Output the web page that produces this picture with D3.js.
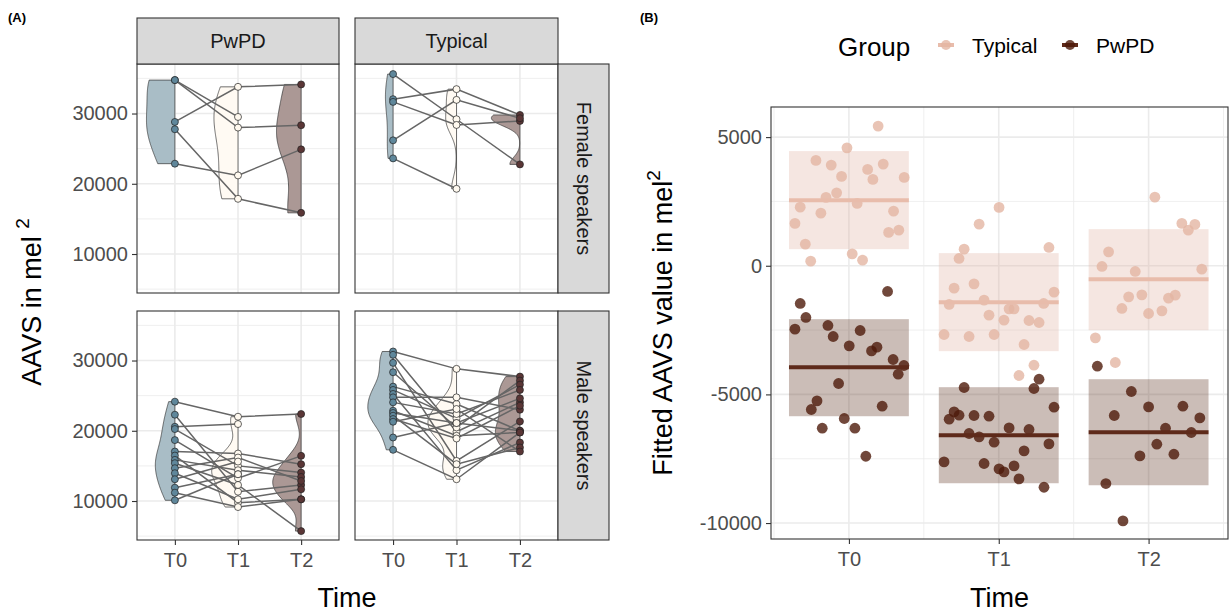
<!DOCTYPE html>
<html>
<head>
<meta charset="utf-8">
<script src="https://cdn.jsdelivr.net/npm/d3@7"></script>
<style>
  body { margin: 0; background: #fff; }
</style>
</head>
<body>
<div id="app"></div>
<script>
// ---------- data ----------
const times = ['T0', 'T1', 'T2'];
const groupsA = ['PwPD', 'Typical'];
const sexes = ['Female speakers', 'Male speakers'];

// AAVS per speaker at [T0, T1, T2]; null = missing
const pwpdFemale = [
  [34760, 29510, null], [34760, 28000, 28330], [28800, 33800, 34140],
  [27760, 17860, 15860], [22860, 21190, 24900]
];
const typicalFemale = [
  [35614, 29186, 22757], [32043, 33471, 29800], [31657, 28371, 28943],
  [26186, 31943, 29330], [23614, 19286, null]
];
const pwpdMale = [
  [24143, 22000, 22386], [22286, 11329, 12286], [20571, 20957, null],
  [20243, 15000, 14043], [18671, 13243, 16429], [17043, 16757, 15243],
  [16471, 9757, 10243], [15857, 14386, 13429], [15386, 12286, 5714],
  [14671, 16186, 12857], [13957, 10243, 11671], [13100, 15614, null],
  [11900, 13814, null], [11186, 9143, 10243], [10100, 13814, null]
];
const typicalMale = [
  [31286, 28814, 27714], [30814, 19857, 24043], [29671, 15714, 21329],
  [28329, 20471, 27143], [26286, 23814, 20000], [25814, 21757, 26571],
  [25243, 14386, 18329], [24757, 24757, 23000], [24043, 22386, 25814],
  [22857, 19286, 19757], [22529, 21100, 24614], [22143, 15243, 17614],
  [21671, 18900, 23571], [21286, 23100, 17043], [19043, 21100, 20000],
  [17286, 13100, 19757]
];

// panel B: fitted values per speaker, [jitter offset, value]
const fitTypicalT0 = [[0.195,5428],[-0.013,4584],[-0.22,4094],[-0.118,3911],[0.229,3950],[0.125,3744],[-0.049,3472],[0.16,3355],[0.369,3433],[-0.082,2834],[-0.153,2656],[-0.325,2278],[0.055,2422],[-0.187,2045],[0.298,2123],[-0.36,1645],[0.265,1295],[0.333,1384],[-0.291,840],[0.022,463],[-0.255,179],[0.091,218]];
const fitTypicalT1 = [[0.002,2267],[-0.131,1617],[-0.231,645],[-0.265,283],[0.335,711],[-0.298,-871],[-0.165,-704],[-0.331,-1505],[-0.098,-1337],[0.369,-1026],[0.3,-1466],[0.069,-1676],[0.102,-1676],[-0.065,-1921],[0.035,-2115],[0.202,-2127],[0.269,-2205],[-0.365,-2671],[-0.198,-2749],[-0.031,-2671],[0.169,-3060],[0.235,-3865],[0.135,-4265]];
const fitTypicalT2 = [[0.042,2667],[0.222,1645],[0.309,1606],[0.265,1384],[-0.267,541],[-0.311,-27],[-0.089,-222],[0.355,-132],[-0.133,-1209],[-0.045,-1131],[0.133,-1259],[0.178,-1143],[-0.178,-1660],[0,-1855],[0.089,-1753],[-0.355,-2803],[-0.222,-3760]];
const fitPwpdT0 = [[0.258,-999],[-0.325,-1466],[-0.287,-2010],[-0.36,-2465],[-0.14,-2321],[-0.105,-2749],[0.075,-2516],[0.002,-3114],[0.151,-3309],[0.187,-3165],[0.295,-3643],[0.367,-3877],[0.329,-4215],[-0.069,-4577],[-0.213,-5253],[-0.251,-5587],[0.222,-5459],[-0.031,-5937],[-0.178,-6314],[0.04,-6314],[0.113,-7403]];
const fitPwpdT1 = [[-0.231,-4732],[0.269,-4409],[0.235,-4771],[-0.298,-5680],[-0.331,-5964],[-0.265,-5809],[-0.165,-5820],[-0.065,-5848],[0.369,-5498],[0.069,-6302],[0.202,-6365],[-0.198,-6520],[-0.131,-6652],[-0.031,-6858],[0.335,-6924],[0.169,-7196],[-0.365,-7624],[-0.098,-7686],[0.002,-7896],[0.035,-8013],[0.102,-7780],[0.135,-8285],[0.302,-8608]];
const fitPwpdT2 = [[-0.342,-3904],[-0.115,-4887],[-0.229,-5820],[0,-5486],[0.229,-5459],[0.342,-5914],[0.113,-6314],[0.285,-6481],[0.055,-6936],[-0.058,-7391],[0.169,-7325],[-0.285,-8464],[-0.171,-9918]];

// model estimates per time: mean, lower, upper
const meanTypical = [2550, -1415, -521];
const lowTypical = [645, -3320, -2504];
const highTypical = [4456, 490, 1423];
const meanPwpd = [-3942, -6587, -6470];
const lowPwpd = [-5848, -8453, -8531];
const highPwpd = [-2076, -4720, -4410];

const legendGroups = ['Typical', 'PwPD'];

// ---------- setup ----------
const width = 1229, height = 613;
const font = '"Liberation Sans", Arial, Helvetica, sans-serif';
const svg = d3.select('#app').append('svg')
  .attr('width', width).attr('height', height)
  .style('font-family', font);
svg.append('rect').attr('width', width).attr('height', height).attr('fill', '#fff');

const gridCol = '#ebebeb';
const plainNum = d => String(d);   // hyphen minus like R
const styleAxis = g => {
  g.select('.domain').remove();
  g.selectAll('.tick line').attr('stroke', '#333').attr('stroke-width', 1.1);
  g.selectAll('.tick text').attr('fill', '#4d4d4d')
    .style('font-family', font).style('font-size', '20px');
};

// simple gaussian kde with R's bw.nrd0
const nrd0 = v => {
  const s = v.slice().sort(d3.ascending);
  const sd = d3.deviation(s);
  const iqr = (d3.quantile(s, 0.75) - d3.quantile(s, 0.25)) / 1.34;
  const lo = Math.min(sd, iqr) || sd || 1;
  return 0.9 * lo * Math.pow(s.length, -0.2);
};
const kde = v => {
  const bw = nrd0(v);
  const [a, b] = d3.extent(v);
  return d3.range(0, 121).map(i => {
    const y = a + (b - a) * i / 120;
    const dens = d3.mean(v, x => Math.exp(-0.5 * ((y - x) / bw) ** 2)) / (bw * Math.sqrt(2 * Math.PI));
    return [y, dens];
  });
};

// ---------- panel A ----------
const colX = [[137, 339], [355, 558]];
const rowY = [[64, 293], [311, 540]];
const panelData = [[pwpdFemale, typicalFemale], [pwpdMale, typicalMale]];
const violinFill = ['#a9bdc6', '#fffaf3', '#ab9895'];
const pointFill = ['#5f879b', '#fff9ef', '#5a3636'];

svg.append('text').attr('x', 8).attr('y', 22).attr('font-weight', 'bold')
  .attr('font-size', 13).text('(A)');

rowY.forEach((ry, r) => {
  const y = d3.scaleLinear().domain([4450, 37050]).range([ry[1], ry[0]]);
  colX.forEach((cx, c) => {
    const x = d3.scalePoint().domain(times).range(cx).padding(0.6);
    const g = svg.append('g');
    const subjects = panelData[r][c];

    // grid
    g.selectAll('.minor').data([5000, 15000, 25000, 35000]).join('line')
      .attr('x1', cx[0]).attr('x2', cx[1]).attr('y1', d => y(d)).attr('y2', d => y(d))
      .attr('stroke', gridCol).attr('stroke-width', 0.8);
    g.selectAll('.major').data([10000, 20000, 30000]).join('line')
      .attr('x1', cx[0]).attr('x2', cx[1]).attr('y1', d => y(d)).attr('y2', d => y(d))
      .attr('stroke', gridCol).attr('stroke-width', 1.6);
    g.selectAll('.vgrid').data(times).join('line')
      .attr('x1', d => x(d)).attr('x2', d => x(d)).attr('y1', ry[0]).attr('y2', ry[1])
      .attr('stroke', gridCol).attr('stroke-width', 1.6);

    // half violins, scaled by the panel's max density
    const dens = times.map((t, i) => kde(subjects.map(s => s[i]).filter(v => v != null)));
    const maxD = d3.max(dens, d => d3.max(d, p => p[1]));
    const halfW = 0.45 * x.step();
    dens.forEach((dd, i) => {
      const x0 = x(times[i]);
      const pts = [[x0, y(dd[0][0])]]
        .concat(dd.map(p => [x0 - halfW * p[1] / maxD, y(p[0])]))
        .concat([[x0, y(dd[dd.length - 1][0])]]);
      g.append('path').attr('d', d3.line()(pts) + 'Z')
        .attr('fill', violinFill[i]).attr('stroke', '#333').attr('stroke-width', 0.7);
    });

    // speaker lines
    g.selectAll('.subj').data(subjects).join('path')
      .attr('d', s => d3.line()(times.map((t, i) => [x(t), s[i]]).filter(p => p[1] != null).map(p => [p[0], y(p[1])])))
      .attr('fill', 'none').attr('stroke', '#666').attr('stroke-width', 1.5);

    // points
    times.forEach((t, i) => {
      g.selectAll('.pt' + i).data(subjects.filter(s => s[i] != null)).join('circle')
        .attr('cx', x(t)).attr('cy', s => y(s[i])).attr('r', 3.5)
        .attr('fill', pointFill[i]).attr('stroke', '#222').attr('stroke-width', 0.7);
    });

    g.append('rect').attr('x', cx[0]).attr('y', ry[0])
      .attr('width', cx[1] - cx[0]).attr('height', ry[1] - ry[0])
      .attr('fill', 'none').attr('stroke', '#333').attr('stroke-width', 1.1);

    if (r === 1) {
      svg.append('g').attr('transform', `translate(0,${ry[1]})`)
        .call(d3.axisBottom(x).tickSize(5).tickPadding(8)).call(styleAxis);
    }
    if (c === 0) {
      svg.append('g').attr('transform', `translate(${cx[0]},0)`)
        .call(d3.axisLeft(y).tickValues([10000, 20000, 30000]).tickSize(5).tickPadding(4).tickFormat(plainNum))
        .call(styleAxis);
    }
  });
});

// top strips
colX.forEach((cx, c) => {
  svg.append('rect').attr('x', cx[0]).attr('y', 18).attr('width', cx[1] - cx[0]).attr('height', 46)
    .attr('fill', '#d9d9d9').attr('stroke', '#333').attr('stroke-width', 1.1);
  svg.append('text').attr('x', (cx[0] + cx[1]) / 2).attr('y', 48).attr('text-anchor', 'middle')
    .attr('font-size', 20).attr('fill', '#1a1a1a').text(groupsA[c]);
});
// right strips
rowY.forEach((ry, r) => {
  svg.append('rect').attr('x', 558).attr('y', ry[0]).attr('width', 51).attr('height', ry[1] - ry[0])
    .attr('fill', '#d9d9d9').attr('stroke', '#333').attr('stroke-width', 1.1);
  svg.append('text').attr('transform', `translate(577,${(ry[0] + ry[1]) / 2}) rotate(90)`)
    .attr('text-anchor', 'middle').attr('font-size', 20).attr('fill', '#1a1a1a').text(sexes[r]);
});

// axis titles A
const ytA = svg.append('text').attr('transform', 'translate(41,302) rotate(-90)')
  .attr('text-anchor', 'middle').attr('font-size', 27).attr('fill', '#000');
ytA.append('tspan').text('AAVS in mel ');
ytA.append('tspan').attr('font-size', 19).attr('dy', -12).text('2');
svg.append('text').attr('x', 347).attr('y', 607).attr('text-anchor', 'middle')
  .attr('font-size', 27).text('Time');

// ---------- panel B ----------
const bx = [771, 1228], by = [107, 539];
const xB = d3.scaleLinear().domain([0.48, 3.53]).range(bx);
const yB = d3.scaleLinear().domain([-10620, 6170]).range([by[1], by[0]]);
const gB = svg.append('g');

svg.append('text').attr('x', 640).attr('y', 22).attr('font-weight', 'bold')
  .attr('font-size', 13).text('(B)');

gB.selectAll('.bminy').data([-7500, -2500, 2500]).join('line')
  .attr('x1', bx[0]).attr('x2', bx[1]).attr('y1', d => yB(d)).attr('y2', d => yB(d))
  .attr('stroke', gridCol).attr('stroke-width', 0.8);
gB.selectAll('.bminx').data([0.5, 1.5, 2.5, 3.5]).join('line')
  .attr('y1', by[0]).attr('y2', by[1]).attr('x1', d => xB(d)).attr('x2', d => xB(d))
  .attr('stroke', gridCol).attr('stroke-width', 0.8);
gB.selectAll('.bmajy').data([-10000, -5000, 0, 5000]).join('line')
  .attr('x1', bx[0]).attr('x2', bx[1]).attr('y1', d => yB(d)).attr('y2', d => yB(d))
  .attr('stroke', gridCol).attr('stroke-width', 1.6);
gB.selectAll('.bmajx').data([1, 2, 3]).join('line')
  .attr('y1', by[0]).attr('y2', by[1]).attr('x1', d => xB(d)).attr('x2', d => xB(d))
  .attr('stroke', gridCol).attr('stroke-width', 1.6);

const groupsB = [
  { mean: meanTypical, lo: lowTypical, hi: highTypical, pts: [fitTypicalT0, fitTypicalT1, fitTypicalT2],
    box: '#ddac9b', point: '#e3b5a3', line: '#e8bcab' },
  { mean: meanPwpd, lo: lowPwpd, hi: highPwpd, pts: [fitPwpdT0, fitPwpdT1, fitPwpdT2],
    box: '#522312', point: '#4e1a0a', line: '#5e2a1a' }
];
groupsB.forEach(gr => {
  gB.selectAll(null).data(times).join('rect')
    .attr('x', (t, i) => xB(i + 1 - 0.4)).attr('width', xB(1.4) - xB(0.6))
    .attr('y', (t, i) => yB(gr.hi[i])).attr('height', (t, i) => yB(gr.lo[i]) - yB(gr.hi[i]))
    .attr('fill', gr.box).attr('fill-opacity', 0.3);
  gr.pts.forEach((arr, i) => {
    gB.selectAll(null).data(arr).join('circle')
      .attr('cx', d => xB(i + 1 + d[0])).attr('cy', d => yB(d[1])).attr('r', 5.4)
      .attr('fill', gr.point).attr('fill-opacity', 0.8);
  });
  gB.selectAll(null).data(times).join('line')
    .attr('x1', (t, i) => xB(i + 1 - 0.4)).attr('x2', (t, i) => xB(i + 1 + 0.4))
    .attr('y1', (t, i) => yB(gr.mean[i])).attr('y2', (t, i) => yB(gr.mean[i]))
    .attr('stroke', gr.line).attr('stroke-width', 4);
});

gB.append('rect').attr('x', bx[0]).attr('y', by[0]).attr('width', bx[1] - bx[0]).attr('height', by[1] - by[0])
  .attr('fill', 'none').attr('stroke', '#333').attr('stroke-width', 1.1);

svg.append('g').attr('transform', `translate(0,${by[1]})`)
  .call(d3.axisBottom(xB).tickValues([1, 2, 3]).tickFormat((d, i) => times[i]).tickSize(5).tickPadding(8))
  .call(styleAxis);
svg.append('g').attr('transform', `translate(${bx[0]},0)`)
  .call(d3.axisLeft(yB).tickValues([-10000, -5000, 0, 5000]).tickFormat(plainNum).tickSize(5).tickPadding(4))
  .call(styleAxis);

const ytB = svg.append('text').attr('transform', `translate(672,${(by[0] + by[1]) / 2}) rotate(-90)`)
  .attr('text-anchor', 'middle').attr('font-size', 27);
ytB.append('tspan').text('Fitted AAVS value in mel');
ytB.append('tspan').attr('font-size', 19).attr('dy', -12).text('2');
svg.append('text').attr('x', (bx[0] + bx[1]) / 2).attr('y', 607).attr('text-anchor', 'middle')
  .attr('font-size', 27).text('Time');

// legend
const leg = svg.append('g');
leg.append('text').attr('x', 838).attr('y', 56).attr('font-size', 26).text('Group');
const legX = [946, 1070];
legendGroups.forEach((name, i) => {
  const gr = groupsB[i];
  leg.append('line').attr('x1', legX[i] - 8).attr('x2', legX[i] + 8).attr('y1', 45).attr('y2', 45)
    .attr('stroke', gr.line).attr('stroke-width', 4);
  leg.append('circle').attr('cx', legX[i]).attr('cy', 45).attr('r', 5).attr('fill', gr.point).attr('fill-opacity', 0.8);
  leg.append('text').attr('x', legX[i] + 26).attr('y', 53).attr('font-size', 21).text(name);
});
</script>
</body>
</html>
